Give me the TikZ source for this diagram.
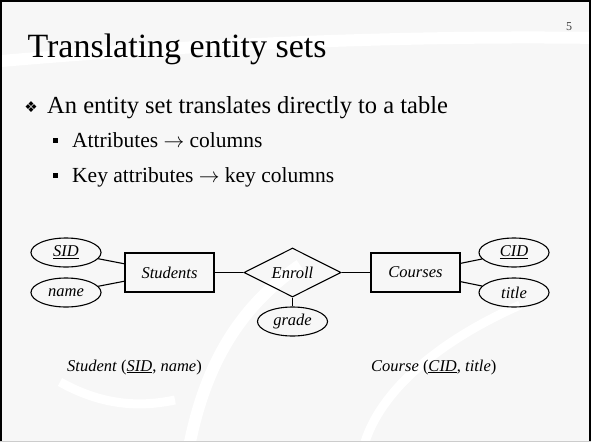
\documentclass[tikz,border=0pt]{standalone}
\usepackage{fontspec}
\setmainfont{Liberation Serif}
\newfontfamily\symfont{DejaVu Sans}
\usetikzlibrary{shapes.geometric}
\definecolor{slidebg}{HTML}{F7F7F7}

\begin{document}
\begin{tikzpicture}[x=1pt,y=-1pt,
    entity/.style={draw=black,line width=1.1pt,rectangle,inner sep=0pt,minimum width=89pt,minimum height=39pt,font=\fontsize{16.5}{18}\selectfont\itshape},
    attrib/.style={draw=black,line width=1.1pt,ellipse,inner sep=0pt,minimum width=70pt,minimum height=29pt,font=\fontsize{16.5}{18}\selectfont\itshape},
    relship/.style={draw=black,line width=1.1pt,diamond,aspect=2,inner sep=0pt,minimum width=97pt,minimum height=49pt,font=\fontsize{16.5}{18}\selectfont\itshape},
    every edge/.style={draw,line width=1.1pt}]
            \useasboundingbox (0,0) rectangle (591,442);
            % slide background
            \fill[slidebg] (0,0) rectangle (591,442);
            \draw[white,line width=12pt] (-10,62) .. controls (180,45) and (400,35) .. (600,38);
            \draw[white,line width=9pt] (60,382) .. controls (110,410) and (150,405) .. (175,400);
            \draw[white,line width=12pt] (190,442) .. controls (205,370) and (235,310) .. (300,265);
            \draw[white,line width=9pt] (365,442) .. controls (380,395) and (430,345) .. (520,305);
            \draw[black,line width=2pt] (1,442) -- (1,1) -- (590,1) -- (590,442);
            \draw[black!20,line width=1pt] (0,441.5) -- (591,441.5);

            % text
            \node[font=\fontsize{12}{14}\selectfont,text=black!75] (pagenum) at (569,27) {5};
            \node[anchor=base west,font=\fontsize{34}{40}\selectfont] (heading) at (24,57) {Translating entity sets};
            \node[font=\symfont\fontsize{15}{16}\selectfont,inner sep=0pt] (b1) at (31,107) {❖};
            \node[anchor=base west,inner sep=0pt,font=\fontsize{24.5}{28}\selectfont] (line1) at (47,113) {An entity set translates directly to a table};
            \node[fill=black,inner sep=0pt,minimum size=5pt] (b2) at (55.5,140) {};
            \node[anchor=base west,inner sep=0pt,font=\fontsize{21.5}{24}\selectfont] (line2) at (72,147) {Attributes $\rightarrow$ columns};
            \node[fill=black,inner sep=0pt,minimum size=5pt] (b3) at (55.5,175) {};
            \node[anchor=base west,inner sep=0pt,font=\fontsize{21.5}{24}\selectfont] (line3) at (72,182) {Key attributes $\rightarrow$ key columns};

            % E-R diagram
            \node[attrib] (sid) at (66,252.5) {\underline{SID}};
            \node[attrib] (name) at (66,292.5) {name};
            \node[entity] (students) at (169.5,272.5) {Students};
            \node[relship] (enroll) at (292.5,272.5) {Enroll};
            \node[attrib] (grade) at (292.5,321.5) {grade};
            \node[entity] (courses) at (415.5,272.5) {Courses};
            \node[attrib] (cid) at (514,252.5) {\underline{CID}};
            \node[attrib] (ctitle) at (514,292.5) {title};

            \path [-] (sid) edge (students);
            \path [-] (name) edge (students);
            \path [-] (students) edge (enroll);
            \path [-] (enroll) edge (courses);
            \path [-] (enroll) edge (grade);
            \path [-] (courses) edge (cid);
            \path [-] (courses) edge (ctitle);

            % tables
            \node[anchor=base west,inner sep=0pt,font=\fontsize{16.5}{18}\selectfont] (studtab) at (67,371) {\textit{Student} (\textit{\underline{SID}}, \textit{name})};
            \node[anchor=base west,inner sep=0pt,font=\fontsize{16.5}{18}\selectfont] (coursetab) at (371,371) {\textit{Course} (\textit{\underline{CID}}, \textit{title})};
        \end{tikzpicture}
\end{document}
